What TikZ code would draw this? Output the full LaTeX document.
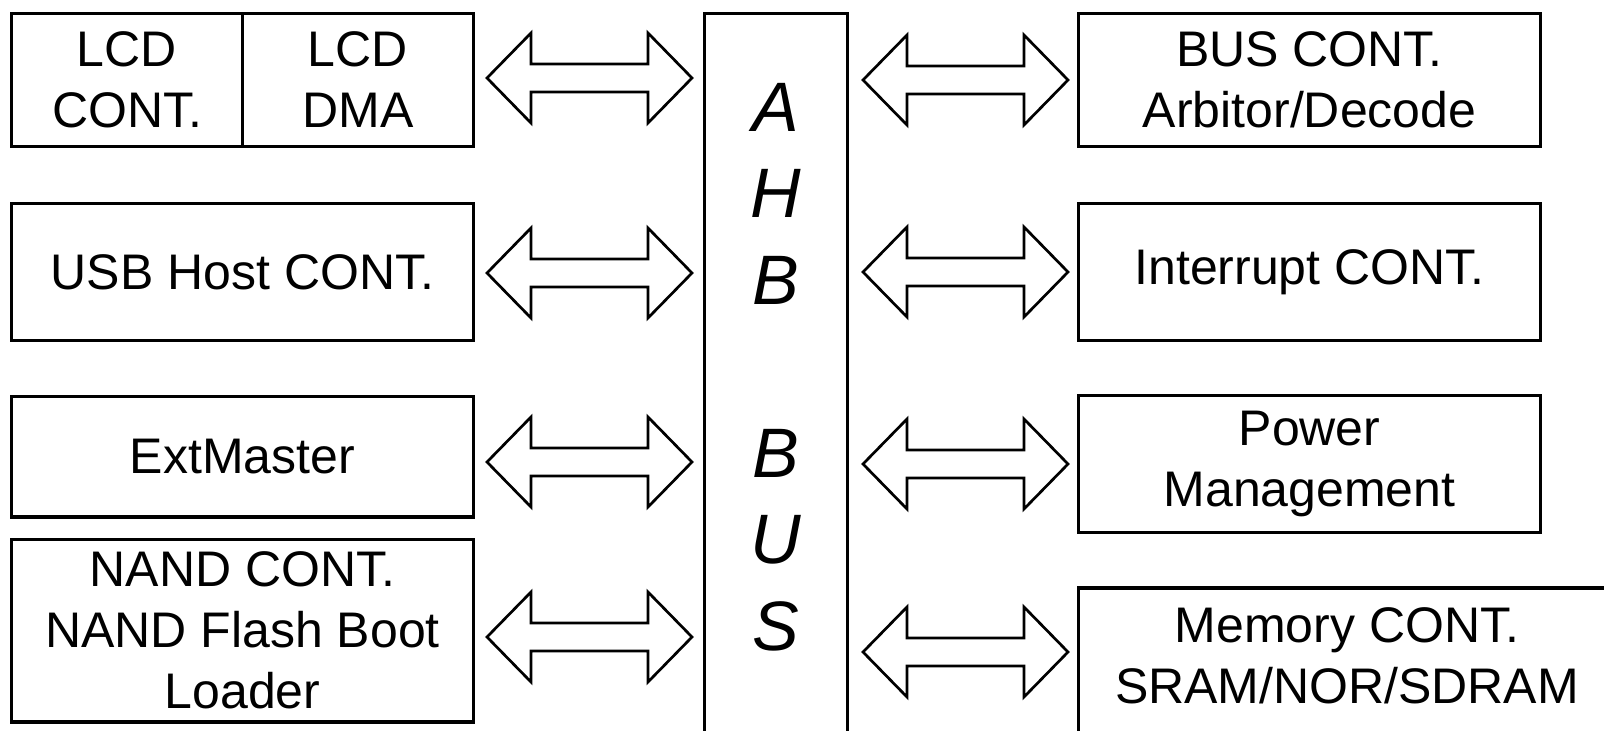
\documentclass[tikz,border=0pt]{standalone}
\usepackage{fontspec}
\setmainfont{Liberation Sans}
\usetikzlibrary{calc}

\tikzset{
  block/.style={draw, line width=3.3pt, inner sep=0pt, outer sep=0pt, align=center,
    font=\fontsize{50}{61}\selectfont},
  blocktext/.style={inner sep=0pt, align=center,
    font=\fontsize{50}{61}\selectfont},
  fatarrow/.style={draw, line width=2.7pt, line join=miter},
}

% wide double-headed arrow between two named points on one level
\newcommand{\busarrow}[2]{%
  \draw[fatarrow] let \p1=(#1), \p2=(#2) in
    (\x1,\y1) -- ++(44pt,45pt) -- ++(0,-31pt) -- (\x2-44pt,\y1+14pt)
    -- ++(0,31pt) -- (\x2,\y2) -- ++(-44pt,-45pt) -- ++(0,31pt)
    -- (\x1+44pt,\y1-14pt) -- ++(0,-31pt) -- cycle;}

\begin{document}
\begin{tikzpicture}[x=1pt,y=-1pt]
  \useasboundingbox (0,0) rectangle (1604,731);
  \clip (0,0) rectangle (1604,731);

  % masters on the left
  \node[block, minimum width=231pt, minimum height=133pt] (lcdc) at (127,80) {LCD\\CONT.};
  \node[block, minimum width=231pt, minimum height=133pt] (lcdd) at (358,80) {LCD\\DMA};
  \node[block, minimum width=462pt, minimum height=137pt] (usb) at (242.5,272) {USB Host CONT.};
  \node[block, minimum width=462pt, minimum height=120.5pt] (ext) at (242.5,456.75) {ExtMaster};
  \node[block, minimum width=462pt, minimum height=182.5pt] (nand) at (242.5,630.75)
    {NAND CONT.\\NAND Flash Boot\\Loader};

  % the bus
  \node[block, minimum width=143pt, minimum height=760pt, anchor=north] (bus) at (776,13.5) {};
  \node[inner sep=0pt, align=center, font=\fontsize{70}{86.5}\selectfont\itshape]
    (busname) at (776,367) {A\\H\\B\\[86.5pt]B\\U\\S};

  % slaves on the right
  \node[block, minimum width=462pt, minimum height=133pt] (busc) at (1309.5,80)
    {BUS CONT.\\Arbitor/Decode};
  \node[block, minimum width=462pt, minimum height=137pt] (irq) at (1309.5,272) {Interrupt CONT.};
  \node[block, minimum width=462pt, minimum height=137pt] (pwr) at (1309.5,464)
    {Power\\Management};
  \node[block, minimum width=540pt, minimum height=200pt, anchor=north west] (mem)
    at (1078.5,588) {};
  \node[blocktext] (memtext) at (1347,656) {Memory CONT.\\SRAM/NOR/SDRAM};

  % arrow end points
  \coordinate (l1a) at (487,78);  \coordinate (l1b) at (692,78);
  \coordinate (l2a) at (487,273); \coordinate (l2b) at (692,273);
  \coordinate (l3a) at (487,462); \coordinate (l3b) at (692,462);
  \coordinate (l4a) at (487,637); \coordinate (l4b) at (692,637);
  \coordinate (r1a) at (863,80);  \coordinate (r1b) at (1068,80);
  \coordinate (r2a) at (863,272); \coordinate (r2b) at (1068,272);
  \coordinate (r3a) at (863,464); \coordinate (r3b) at (1068,464);
  \coordinate (r4a) at (863,652); \coordinate (r4b) at (1068,652);

  \busarrow{l1a}{l1b}
  \busarrow{l2a}{l2b}
  \busarrow{l3a}{l3b}
  \busarrow{l4a}{l4b}
  \busarrow{r1a}{r1b}
  \busarrow{r2a}{r2b}
  \busarrow{r3a}{r3b}
  \busarrow{r4a}{r4b}
\end{tikzpicture}
\end{document}
